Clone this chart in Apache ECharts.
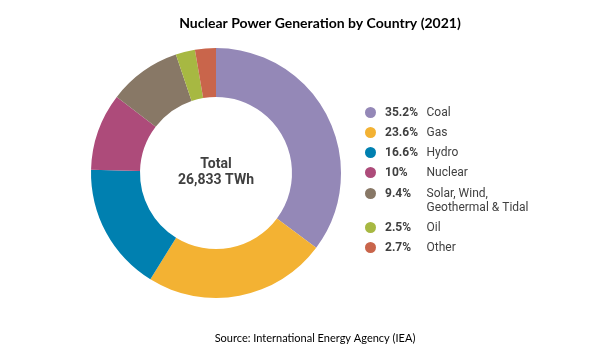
<!DOCTYPE html>
<html><head><meta charset="utf-8">
<script src="https://cdn.jsdelivr.net/npm/echarts@6/dist/echarts.min.js"></script>
<style>html,body{margin:0;padding:0;background:#fff}#c{width:593px;height:358px}</style>
</head><body><div id="c"></div>
<script>
var categories = ['Coal', 'Gas', 'Hydro', 'Nuclear', 'Solar, Wind,\nGeothermal & Tidal', 'Oil', 'Other'];
var shares = [35.2, 23.6, 16.6, 10, 9.4, 2.5, 2.7];
var shareLabels = ['35.2%', '23.6%', '16.6%', '10%', '9.4%', '2.5%', '2.7%'];
var colors = ['#9488b7', '#f3b233', '#0080b0', '#ad4b7a', '#887866', '#a7b842', '#c9654b'];
var totalLabel = 'Total\n26,833 TWh';
var titleText = 'Nuclear Power Generation by Country (2021)';
var sourceText = 'Source: International Energy Agency (IEA)';

var chart = echarts.init(document.getElementById('c'), null, {renderer: 'canvas'});

var data = categories.map(function (c, i) {
  return {name: c, value: shares[i], itemStyle: {color: colors[i]}};
});

function fmt(name) {
  var i = categories.indexOf(name);
  var parts = name.split('\n');
  var s = '{p|' + shareLabels[i] + '}{n|' + parts[0] + '}';
  for (var k = 1; k < parts.length; k++) s += '\n{p|}{n|' + parts[k] + '}';
  return s;
}
var rich = {
  p: {fontFamily: 'Roboto', fontSize: 12, fontWeight: 'bold', color: '#404040', lineHeight: 14, width: 41.5, padding: [0, 0, 0, 4]},
  n: {fontFamily: 'Roboto', fontSize: 12, color: '#404040', lineHeight: 14}
};
function legendBase(names, top) {
  return {
    data: names.map(function (n) {
      var item = {name: n, icon: 'circle'};
      if (n.indexOf('\n') >= 0) item.textStyle = {padding: [14, 0, 0, 0]};
      return item;
    }),
    orient: 'vertical', left: 365, top: top, padding: 0,
    itemWidth: 11, itemHeight: 11, itemGap: 6, selectedMode: false,
    formatter: fmt,
    textStyle: {rich: rich, fontFamily: 'Roboto', fontSize: 12, color: '#404040', lineHeight: 14}
  };
}

chart.setOption({
  animation: false,
  title: [
    {text: titleText, left: 315, top: 11, textAlign: 'center',
     textStyle: {fontFamily: 'Lato', fontSize: 14, fontWeight: 'bold', color: '#000'}},
    {text: sourceText, left: 310, top: 328, textAlign: 'center',
     textStyle: {fontFamily: 'Lato', fontSize: 11, fontWeight: 'normal', color: '#000'}}
  ],
  legend: [
    legendBase(categories.slice(0, 4), 105.5),
    legendBase(categories.slice(4), 172.5)
  ],
  graphic: [{
    type: 'text', x: 216, y: 172.5,
    style: {text: totalLabel, fontFamily: 'Roboto', fontSize: 14, fontWeight: 'bold', fill: '#404040',
            align: 'center', verticalAlign: 'middle', lineHeight: 16}
  }],
  series: [{
    type: 'pie', center: [216, 173], radius: [76, 125], startAngle: 90, clockwise: true,
    label: {show: false}, labelLine: {show: false}, silent: true,
    itemStyle: {borderWidth: 0},
    data: data
  }]
});
</script></body></html>
